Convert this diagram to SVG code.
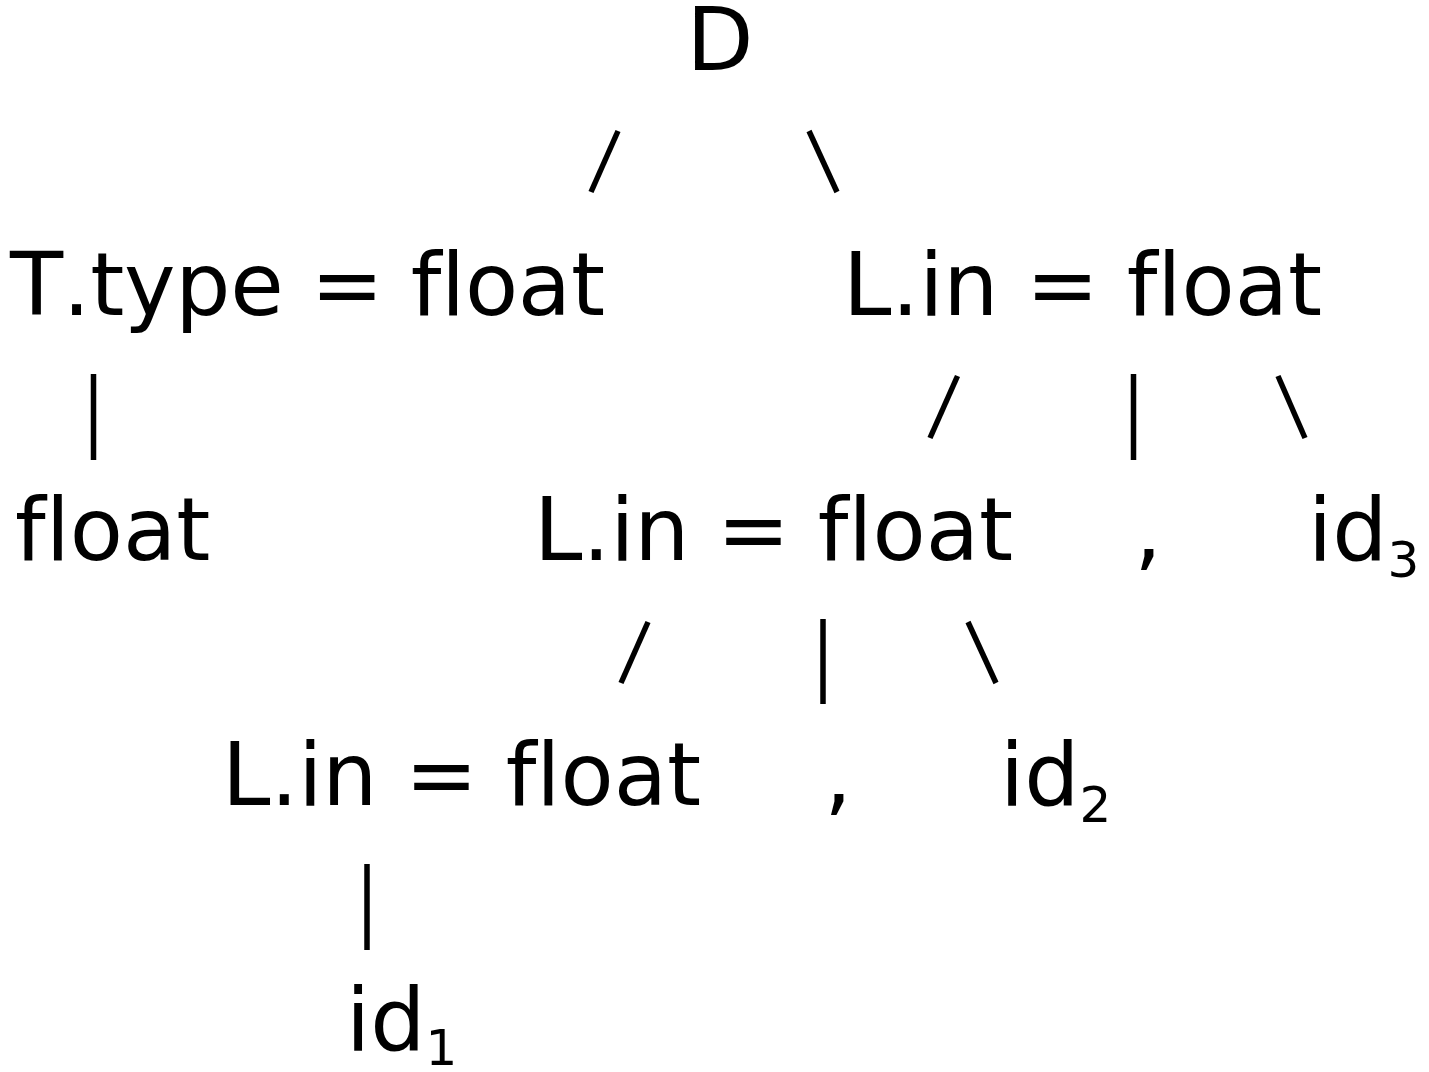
<svg xmlns="http://www.w3.org/2000/svg" width="1429" height="1072" viewBox="0 0 1429 1072">
<style>
text{font-family:"DejaVu Sans","Verdana",sans-serif;font-size:87px;fill:#000;font-variant-ligatures:none;font-feature-settings:"liga" 0,"clig" 0;font-kerning:none}
.sub{font-size:50px}
.c line{stroke:#000;stroke-width:5.5;stroke-linecap:butt}
</style>
<rect width="1429" height="1072" fill="#fff"/>
<g id="n_D"><text x="686.5" y="70">D</text></g>
<g id="n_T"><text x="10" y="315" textLength="595" lengthAdjust="spacing">T.type = float</text></g>
<g id="n_L0"><text x="843" y="315">L.in = float</text></g>
<g id="n_float"><text x="15" y="560">float</text></g>
<g id="n_L1"><text x="534" y="560">L.in = float</text></g>
<g id="n_comma1"><text x="1148" y="560" text-anchor="middle">,</text></g>
<g id="n_id3"><text x="1308" y="560">id<tspan class="sub" dy="17">3</tspan></text></g>
<g id="n_L2"><text x="222" y="805">L.in = float</text></g>
<g id="n_comma2"><text x="838" y="805" text-anchor="middle">,</text></g>
<g id="n_id2"><text x="1000" y="805">id<tspan class="sub" dy="17">2</tspan></text></g>
<g id="n_id1"><text x="346" y="1050">id<tspan class="sub" dy="15">1</tspan></text></g>
<g id="connectors" class="c">
<line x1="591" y1="192" x2="618" y2="131"/>
<line x1="809" y1="131" x2="837" y2="192"/>
<line x1="93.5" y1="374" x2="93.5" y2="460"/>
<line x1="930" y1="438" x2="957.5" y2="376"/>
<line x1="1133.5" y1="374" x2="1133.5" y2="460"/>
<line x1="1278" y1="376" x2="1305" y2="438"/>
<line x1="621" y1="683" x2="648" y2="622"/>
<line x1="823" y1="619" x2="823" y2="704"/>
<line x1="968" y1="622" x2="996" y2="683"/>
<line x1="367" y1="864" x2="367" y2="950"/>
</g>
</svg>
